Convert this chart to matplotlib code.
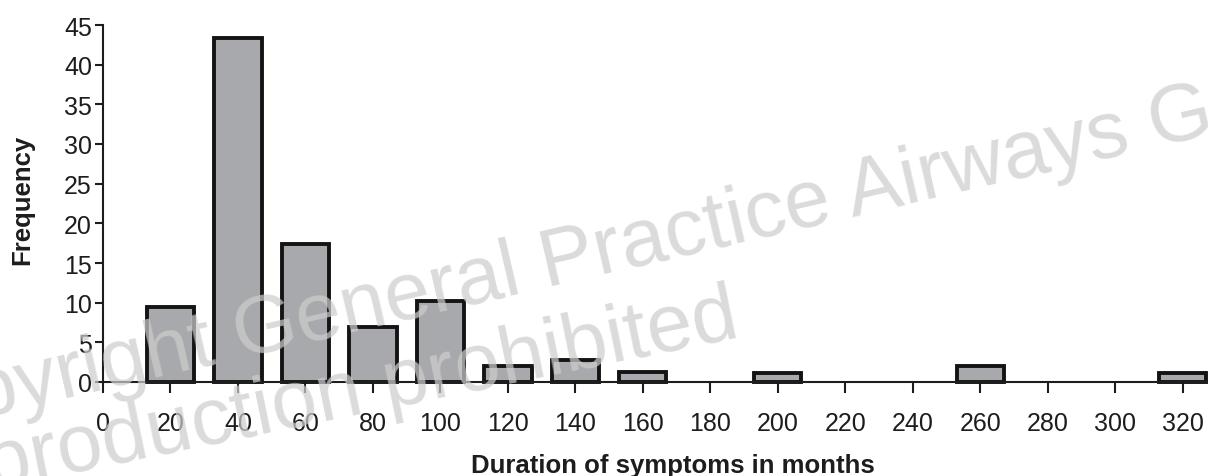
import matplotlib
matplotlib.use("Agg")
import matplotlib.pyplot as plt

# ─────────────────────────────────────────────
# DATA
# ─────────────────────────────────────────────
bin_centers = [20, 40, 60, 80, 100, 120, 140, 160, 200, 260, 320]
frequency   = [9.4, 43.3, 17.4, 6.9, 10.2, 2.0, 2.8, 1.3, 1.1, 2.0, 1.1]
x_ticks     = list(range(0, 321, 20))
y_ticks     = list(range(0, 46, 5))

x_label = "Duration of symptoms in months"
y_label = "Frequency"
watermark_1 = "Copyright General Practice Airways Group"
watermark_2 = "Reproduction prohibited"

plt.rcParams["font.family"] = ["Liberation Sans", "DejaVu Sans"]

fig = plt.figure(figsize=(12.08, 4.77), dpi=100)
W, H = 1208, 477
ax = fig.add_axes([103 / W, 1 - 383 / H, 1 - 103 / W, 357 / H])

ink = "#1e1c1d"
ax.bar(bin_centers, frequency, width=14, color="#a8a9ac",
       edgecolor="#141414", linewidth=2.8, zorder=3, clip_on=False)

ax.set_xlim(0, 327.5)
ax.set_ylim(0, 45)
ax.set_xticks(x_ticks)
ax.set_yticks(y_ticks)

for side in ("top", "right"):
    ax.spines[side].set_visible(False)
for side in ("left", "bottom"):
    ax.spines[side].set_linewidth(1.5)
    ax.spines[side].set_color(ink)
    ax.spines[side].set_zorder(4)

ax.tick_params(axis="x", direction="out", length=7.7, width=1.5, color=ink,
               labelsize=18, labelcolor=ink, pad=13)
ax.tick_params(axis="y", direction="out", length=6, width=1.5, color=ink,
               labelsize=18, labelcolor=ink, pad=2)

fig.text(22 / W, 1 - 200 / H, y_label, fontsize=18.5, fontweight="bold",
         color=ink, rotation=90, ha="center", va="center")
fig.text(673 / W, 1 - 473 / H, x_label, fontsize=18.5, fontweight="bold",
         color=ink, ha="center", va="baseline")

# watermark, laid over the chart
wm = dict(fontsize=59, color="#cdcdcd", alpha=0.72,
          rotation_mode="anchor", ha="left", va="baseline", zorder=10)
fig.text(-125 / W, 1 - 442 / H, watermark_1, rotation=13, **wm)
fig.text(-112 / W, 1 - 510 / H, watermark_2, rotation=11.5, **wm)

fig.savefig("out.png", dpi=100)
